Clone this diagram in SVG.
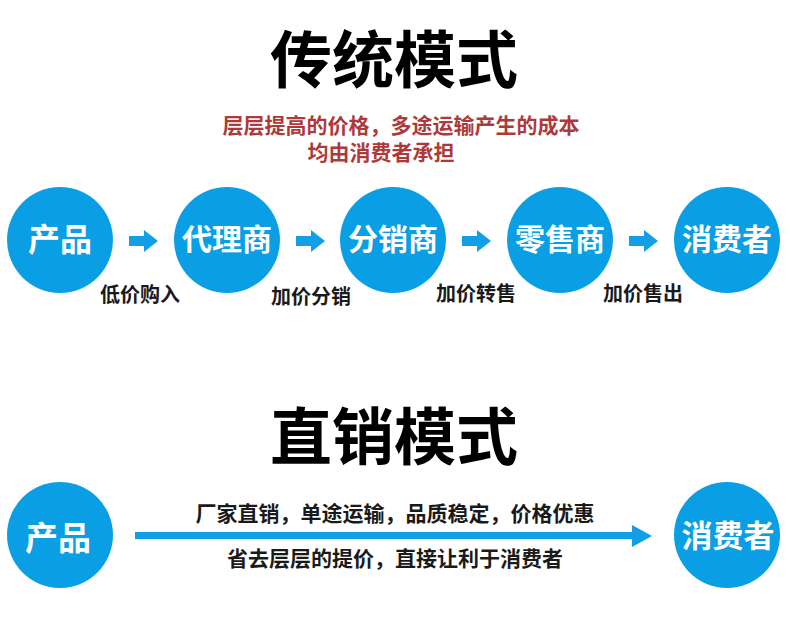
<svg xmlns="http://www.w3.org/2000/svg" width="790" height="628" viewBox="0 0 790 628">
<style>
text{font-family:"Noto Sans CJK SC","Noto Sans CJK JP",sans-serif;font-weight:700;text-anchor:middle}
.title{font-size:62px;fill:#000}
.red{font-size:21px;fill:#ad3a3a}
.node circle{fill:#0a9fe4}
.node text{fill:#fff;font-size:30px}
.lbl{font-size:20px;fill:#1a1a1a}
.desc{font-size:21px;fill:#1a1a1a}
.arr{fill:#129fe6}
</style>
<defs>
<path id="sa" d="M129,236 H144 V230 L158,241 L144,252 V246 H129 Z"/>
</defs>
<rect width="790" height="628" fill="#fff"/>
<text class="title" x="394" y="83">传统模式</text>
<text class="red"><tspan x="401" y="133">层层提高的价格，多途运输产生的成本</tspan><tspan x="381" y="160">均由消费者承担</tspan></text>

<g id="n1" class="node"><circle cx="60" cy="240" r="53"/><text x="60" y="251" style="font-size:32px">产品</text></g>
<g id="n2" class="node"><circle cx="227" cy="240" r="53"/><text x="227" y="250">代理商</text></g>
<g id="n3" class="node"><circle cx="393" cy="240" r="53"/><text x="393" y="250">分销商</text></g>
<g id="n4" class="node"><circle cx="560" cy="240" r="53"/><text x="560" y="250">零售商</text></g>
<g id="n5" class="node"><circle cx="727" cy="240" r="53"/><text x="727" y="250">消费者</text></g>

<g id="connectors">
<use href="#sa" class="arr"/>
<use href="#sa" class="arr" transform="translate(167,0)"/>
<use href="#sa" class="arr" transform="translate(333,0)"/>
<use href="#sa" class="arr" transform="translate(500,0)"/>
<path class="arr" d="M135,532 H632 V525 L652,536 L632,547 V539 H135 Z"/>
</g>

<text class="lbl" x="140" y="302">低价购入</text>
<text class="lbl" x="311" y="304">加价分销</text>
<text class="lbl" x="476" y="301">加价转售</text>
<text class="lbl" x="643" y="301">加价售出</text>

<text class="title" x="394" y="460">直销模式</text>

<g id="b1" class="node"><circle cx="60" cy="535" r="53"/><text x="58" y="550" style="font-size:33px">产品</text></g>
<g id="b2" class="node"><circle cx="727" cy="535" r="53"/><text x="728" y="547" style="font-size:31px">消费者</text></g>

<text class="desc" x="395" y="521">厂家直销，单途运输，品质稳定，价格优惠</text>
<text class="desc" x="395" y="566">省去层层的提价，直接让利于消费者</text>
</svg>
